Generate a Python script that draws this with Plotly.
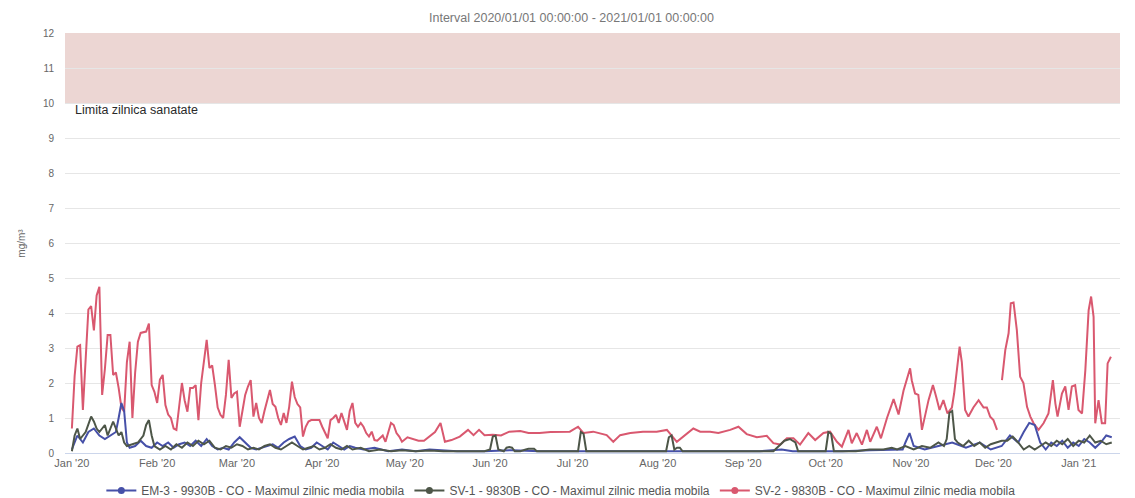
import pandas as pd
import plotly.graph_objects as go

BASE = pd.Timestamp("2020-01-01")

TITLE = "Interval 2020/01/01 00:00:00 - 2021/01/01 00:00:00"
Y_TITLE = "mg/m³"
BAND_LABEL = "Limita zilnica sanatate"
BAND_RANGE = [10, 12]
SERIES_NAMES = [
    "EM-3 - 9930B - CO - Maximul zilnic media mobila",
    "SV-1 - 9830B - CO - Maximul zilnic media mobila",
    "SV-2 - 9830B - CO - Maximul zilnic media mobila",
]

# SV-2 (red): day offset from 2020-01-01, value
SV2_DAYS = [0, 1, 2, 3, 4, 5, 6, 7, 8, 9, 10, 11, 12, 13, 14, 15, 16, 17, 18, 19,
            20, 21, 22, 23, 24, 25, 26, 27, 28, 29, 30, 31, 32, 33, 34, 35, 36, 37, 38, 39,
            40, 41, 42, 43, 44, 45, 46, 47, 48, 49, 50, 51, 52, 53, 54, 55, 56, 57, 58, 59,
            60, 61, 62, 63, 64, 65, 66, 67, 68, 69, 70, 71, 72, 73, 74, 75, 76, 77, 78, 79,
            80, 81, 82, 83, 84, 85, 86, 87, 88, 89, 90, 91, 92, 93, 94, 95, 96, 97, 98, 99,
            100, 101, 102, 103, 104, 105, 106, 107, 108, 109, 110, 111, 112, 113, 114, 115, 116, 117, 118, 119,
            120, 122, 124, 126, 128, 130, 132, 134, 135.6, 138, 141, 144, 146, 148, 150, 153, 156, 159, 163, 166,
            170, 174, 177, 181, 184, 186, 189.5, 194.4, 196.8, 199.3, 203, 207.6, 212.6, 216.3, 219.9, 222.3, 225.9, 228.4, 232, 235,
            239.3, 242.3, 245.3, 249, 252.6, 255, 257.5, 259.9, 262.3, 264.7, 267.7, 270.2, 273.2, 275.6, 278.1, 279.9, 282.3, 283.5, 285.3, 287.2,
            289, 290.2, 292.6, 294.1, 296.3, 298.7, 300.5, 302.3, 303.5, 304.7, 305.3, 306.5, 307.7, 309, 311.4, 313, 314.2, 315.4, 316.8, 318.3,
            319.9, 320.7, 321.7, 322.7, 323.5, 324.7, 325.9, 327.7, 329.6, 331.4, 332.6, 333.8, 335, 336.3, 337.2, 338.1, 339.3, 340.5, 341.3, 342.3,
            343.5, 344.7, 345.9, 347.2, 348.4, 349.6, 351.4, 353.2, 355, 356.6, 357.5, 358.3, 359.9, 361.1, 362.3, 363.5, 364.7, 365.9, 367.2, 368.4,
            369.6, 370.5, 371.4, 372, 373.2, 374.4, 375.6, 376.5, 377.7]
SV2_VALS = [0.7, 2.2, 3.04, 3.08, 1.23, 2.8, 4.1, 4.2, 3.5, 4.5, 4.75, 1.66, 2.4, 3.37, 3.37, 2.23, 2.3, 1.86, 1.3, 1.18,
            2.6, 3.18, 1.0, 2.3, 3.18, 3.43, 3.45, 3.47, 3.7, 1.94, 1.75, 1.43, 2.1, 2.23, 1.37, 1.1, 1.0, 0.7, 0.66, 1.37,
            2.0, 1.5, 1.18, 1.86, 1.86, 1.94, 0.94, 2.0, 2.7, 3.23, 2.43, 2.5, 1.94, 1.3, 1.09, 1.0, 1.66, 2.66, 1.57, 1.7,
            1.75, 0.75, 1.2, 1.66, 1.9, 2.08, 1.04, 1.43, 1.0, 0.86, 1.2, 1.5, 1.8, 1.4, 1.32, 1.0, 0.8, 1.14, 0.86, 1.32,
            2.04, 1.6, 1.4, 1.3, 0.47, 0.75, 0.9, 0.94, 0.94, 0.94, 0.94, 0.75, 0.6, 0.42, 0.94, 1.0, 1.09, 0.86, 1.14, 0.9,
            0.66, 1.2, 1.43, 0.86, 0.75, 0.86, 0.75, 0.57, 0.47, 0.61, 0.37, 0.35, 0.42, 0.5, 0.32, 0.6, 0.86, 0.8, 0.57, 0.47,
            0.32, 0.45, 0.4, 0.35, 0.35, 0.47, 0.6, 0.86, 0.32, 0.37, 0.47, 0.66, 0.51, 0.66, 0.51, 0.52, 0.5, 0.61, 0.63, 0.57,
            0.57, 0.6, 0.61, 0.61, 0.75, 0.57, 0.61, 0.51, 0.32, 0.51, 0.57, 0.61, 0.61, 0.66, 0.32, 0.47, 0.7, 0.61, 0.61, 0.57,
            0.66, 0.75, 0.54, 0.45, 0.49, 0.28, 0.24, 0.42, 0.42, 0.24, 0.57, 0.37, 0.57, 0.61, 0.32, 0.18, 0.66, 0.28, 0.57, 0.24,
            0.66, 0.32, 0.75, 0.42, 1.0, 1.54, 1.1, 1.78, 2.08, 2.42, 2.08, 1.7, 1.66, 0.66, 1.51, 1.94, 1.6, 1.23, 1.51, 1.13,
            1.3, 1.7, 2.37, 3.04, 2.6, 1.23, 1.04, 1.3, 1.51, 1.3, 1.3, 1.04, 0.94, 0.66, None, 2.08, 2.94, 3.42, 4.28, 4.3,
            3.51, 2.18, 2.0, 1.32, 1.04, 0.85, 0.66, 0.85, 1.13, 2.08, 1.42, 1.04, 1.7, 1.9, 1.23, 1.9, 1.94, 1.23, 1.13, 2.37,
            4.08, 4.47, 3.89, 0.85, 1.51, 0.85, 0.85, 2.56, 2.75]

# EM-3 (blue)
EM3_DAYS = [0, 2, 4, 6, 8, 10, 12, 14, 16, 17, 18, 19, 20, 21, 23, 25, 27, 29, 31, 33,
            35, 37, 39, 41, 43, 45, 47, 49, 51, 53, 55, 57, 59, 61, 63, 65, 67, 69, 71, 73,
            75, 77, 79, 81, 83, 85, 87, 89, 91, 93, 95, 97, 99, 101, 103, 106, 110, 115, 120, 125,
            130, 140, 150, 160, 170, 180, 190, 200, 210, 220, 230, 240, 250, 258, 262, 266, 270, 280, 290, 298,
            302, 303, 304.5, 306, 310, 315, 320, 325, 330, 334, 338, 341, 344, 346, 348, 350, 352, 354, 356, 358,
            360, 362, 364, 366, 368, 370, 372, 374, 376, 378]
EM3_VALS = [0.1, 0.5, 0.3, 0.6, 0.7, 0.5, 0.4, 0.5, 0.6, 1.0, 1.43, 1.2, 0.3, 0.15, 0.2, 0.35, 0.2, 0.15, 0.3, 0.2,
            0.3, 0.15, 0.25, 0.3, 0.2, 0.35, 0.2, 0.4, 0.2, 0.1, 0.15, 0.1, 0.3, 0.45, 0.3, 0.15, 0.1, 0.15, 0.2, 0.25,
            0.15, 0.3, 0.4, 0.47, 0.2, 0.1, 0.15, 0.3, 0.2, 0.1, 0.3, 0.2, 0.1, 0.2, 0.15, 0.1, 0.15, 0.05, 0.1, 0.05,
            0.1, 0.05, 0.05, 0.08, 0.05, 0.05, 0.05, 0.05, 0.05, 0.05, 0.05, 0.05, 0.05, 0.1, 0.05, 0.05, 0.05, 0.05, 0.08, 0.1,
            0.1, 0.3, 0.57, 0.2, 0.1, 0.2, 0.3, 0.15, 0.3, 0.1, 0.2, 0.5, 0.3, 0.6, 0.86, 0.8, 0.3, 0.1, 0.3, 0.2,
            0.35, 0.15, 0.3, 0.2, 0.4, 0.3, 0.15, 0.3, 0.5, 0.45]

# SV-1 (dark)
SV1_DAYS = [0, 1, 2, 3, 5, 7, 8, 9, 10, 12, 13, 15, 16, 17, 18, 19, 20, 22, 24, 26,
            27, 28, 29, 30, 32, 34, 36, 38, 40, 42, 44, 46, 48, 50, 52, 54, 56, 58, 60, 62,
            64, 66, 68, 70, 72, 74, 76, 78, 80, 82, 84, 86, 88, 90, 92, 94, 96, 98, 100, 102,
            105, 108, 112, 116, 120, 125, 130, 135, 140, 145, 150, 152, 153, 154, 155, 157, 158, 159, 160, 161,
            163, 165, 166, 168, 169, 175, 180, 184, 185, 186, 187, 195, 205, 215, 216, 217, 218, 219, 220, 221,
            222, 230, 240, 248, 255, 257, 259, 261, 263, 264, 270, 274, 275, 276, 277, 285, 290, 295, 298, 300,
            303, 306, 309, 312, 315, 317, 318, 319, 320, 321, 322, 324, 326, 328, 330, 332, 334, 336, 338, 340,
            342, 344, 346, 348, 350, 352, 354, 356, 358, 360, 362, 364, 366, 368, 370, 372, 374, 376, 378]
SV1_VALS = [0.05, 0.5, 0.7, 0.4, 0.6, 1.04, 0.9, 0.7, 0.6, 0.8, 0.5, 0.9, 0.7, 0.5, 0.6, 0.3, 0.2, 0.25, 0.3, 0.5,
            0.8, 0.94, 0.5, 0.2, 0.1, 0.2, 0.1, 0.25, 0.15, 0.3, 0.2, 0.35, 0.25, 0.35, 0.15, 0.1, 0.2, 0.15, 0.25, 0.2,
            0.1, 0.15, 0.1, 0.2, 0.25, 0.15, 0.1, 0.2, 0.3, 0.2, 0.1, 0.15, 0.2, 0.1, 0.15, 0.25, 0.15, 0.1, 0.2, 0.1,
            0.15, 0.05, 0.1, 0.05, 0.08, 0.05, 0.07, 0.05, 0.05, 0.05, 0.05, 0.1, 0.47, 0.5, 0.1, 0.05, 0.15, 0.17, 0.15, 0.05,
            0.05, 0.1, 0.12, 0.12, 0.05, 0.05, 0.05, 0.05, 0.6, 0.55, 0.05, 0.05, 0.05, 0.05, 0.05, 0.45, 0.5, 0.1, 0.15, 0.15,
            0.05, 0.05, 0.05, 0.05, 0.05, 0.2, 0.35, 0.4, 0.3, 0.05, 0.05, 0.05, 0.6, 0.55, 0.05, 0.05, 0.1, 0.1, 0.15, 0.1,
            0.2, 0.1, 0.2, 0.15, 0.3, 0.2, 0.4, 1.15, 1.2, 0.4, 0.3, 0.2, 0.35, 0.2, 0.3, 0.15, 0.25, 0.3, 0.35, 0.35,
            0.47, 0.3, 0.1, 0.2, 0.1, 0.2, 0.3, 0.2, 0.35, 0.25, 0.4, 0.2, 0.35, 0.3, 0.5, 0.3, 0.35, 0.25, 0.3]

COLORS = ["#4650a8", "#4d5648", "#d9586f"]


def to_dates(days):
    return [BASE + pd.Timedelta(days=d) for d in days]


fig = go.Figure()

series = [(EM3_DAYS, EM3_VALS), (SV1_DAYS, SV1_VALS), (SV2_DAYS, SV2_VALS)]
order = [2, 0, 1]
for i in order:
    days, vals = series[i]
    fig.add_trace(go.Scatter(
        x=to_dates(days), y=vals, mode="lines", name=SERIES_NAMES[i],
        line=dict(color=COLORS[i], width=2), showlegend=False, connectgaps=False,
    ))

for i in range(3):
    fig.add_trace(go.Scatter(
        x=[None], y=[None], mode="lines+markers", name=SERIES_NAMES[i],
        line=dict(color=COLORS[i], width=2), marker=dict(size=7, color=COLORS[i]),
        showlegend=True,
    ))

fig.add_shape(type="rect", xref="paper", yref="y", x0=0, x1=1,
              y0=BAND_RANGE[0], y1=BAND_RANGE[1],
              fillcolor="#ecd6d3", line=dict(width=0), layer="below")

fig.add_annotation(text=BAND_LABEL, xref="paper", yref="y", x=0.008, y=BAND_RANGE[0],
                   xanchor="left", yanchor="top", showarrow=False, yshift=2,
                   font=dict(size=12.5, color="#2a2a2a", family="Liberation Sans"))

fig.add_annotation(text=Y_TITLE, xref="paper", yref="paper", x=-0.042, y=0.5,
                   xanchor="center", yanchor="middle", textangle=-90, showarrow=False,
                   font=dict(size=10, color="#666666"))

# page body adds an 8px offset; size the figure so it fits the 1135x498 window
fig.update_layout(
    width=1127, height=490,
    margin=dict(l=57, r=15, t=25, b=45, autoexpand=False),
    paper_bgcolor="white", plot_bgcolor="white",
    font=dict(family="Liberation Sans", color="#666666", size=10),
    title=dict(text=TITLE, x=0.5, xanchor="center", y=0.98, yanchor="middle",
               font=dict(size=12.5, color="#777777")),
    showlegend=True,
    legend=dict(orientation="h", x=0.47, xanchor="center", y=-0.055, yanchor="top",
                font=dict(size=12, color="#555555"), itemwidth=30,
                tracegroupgap=0),
    xaxis=dict(
        type="date",
        range=[BASE - pd.Timedelta(days=2.5), BASE + pd.Timedelta(days=381)],
        dtick="M1", tick0="2020-01-01", tickformat="%b '%y",
        showgrid=False, showline=True, linecolor="#ccd6eb", linewidth=1,
        ticks="", tickfont=dict(size=11, color="#666666"), zeroline=False,
        automargin=False,
    ),
    yaxis=dict(
        range=[0, 12], dtick=1, tick0=0,
        showgrid=True, gridcolor="#e6e6e6", gridwidth=1,
        zeroline=False, showline=False, ticks="",
        tickfont=dict(size=10, color="#666666"), ticklabelstandoff=10,
        automargin=False,
    ),
)

fig.write_html("out.html")
